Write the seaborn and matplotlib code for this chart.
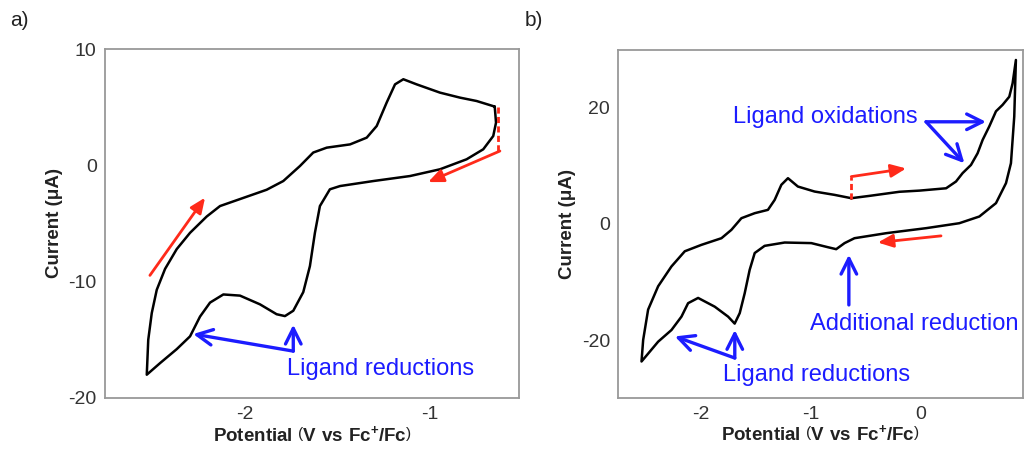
import matplotlib
matplotlib.use("Agg")
import matplotlib.pyplot as plt
import seaborn as sns
import pandas as pd

# ---- Cyclic voltammogram (a): potential in V vs Fc+/Fc, current in uA ----
# cathodic sweep from the switching point, then anodic return
a_potential = [-0.650, -0.643, -0.658, -0.712, -0.802, -0.946, -1.108, -1.306, -1.486, -1.541,
               -1.568, -1.595, -1.622, -1.649, -1.685, -1.739, -1.784, -1.829, -1.919, -2.027,
               -2.117, -2.189, -2.243, -2.297, -2.369, -2.459, -2.531,
               -2.523, -2.504, -2.477, -2.432, -2.369, -2.297, -2.207, -2.135, -2.027, -1.883,
               -1.793, -1.703, -1.631, -1.558, -1.432, -1.342, -1.288, -1.234, -1.189, -1.144,
               -1.072, -0.946, -0.838, -0.748, -0.650]
a_current = [5.05, 3.67, 2.52, 1.38, 0.52, -0.34, -0.92, -1.35, -1.78, -2.06,
             -2.78, -3.5, -5.8, -8.66, -10.9, -12.5, -12.96, -12.8, -11.95, -11.2,
             -11.1, -11.8, -13.0, -14.7, -15.8, -17.0, -18.0,
             -15.0, -12.7, -10.7, -8.9, -7.2, -5.8, -4.4, -3.5, -2.9, -2.1,
             -1.35, -0.06, 1.1, 1.52, 1.8, 2.38, 3.38, 5.4, 6.96, 7.4,
             6.96, 6.25, 5.82, 5.53, 5.05]

# ---- Cyclic voltammogram (b) ----
b_potential = [-0.634, -0.468, -0.197, -0.015, 0.227, 0.317, 0.377, 0.453, 0.513, 0.559,
               0.619, 0.680, 0.740, 0.801, 0.831, 0.861,
               0.846, 0.816, 0.771, 0.680, 0.529, 0.347, 0.045, -0.197, -0.317, -0.605,
               -0.695, -0.771, -0.847, -0.997, -1.239, -1.421, -1.511, -1.557, -1.602, -1.647,
               -1.693, -1.753, -1.874, -2.025, -2.116, -2.176, -2.267, -2.388, -2.539,
               -2.524, -2.479, -2.388, -2.267, -2.146, -1.995, -1.813, -1.723, -1.632, -1.511,
               -1.391, -1.330, -1.269, -1.209, -1.119, -0.967, -0.786, -0.634]
b_current = [4.4, 4.8, 5.5, 5.7, 6.1, 7.26, 8.7, 10.1, 12.1, 14.4,
             16.7, 19.3, 20.4, 21.8, 24.1, 28.1,
             18.4, 10.4, 6.98, 3.55, 1.26, 0.11, -0.74, -1.31, -1.6, -2.46,
             -3.3, -4.34, -4.0, -3.3, -3.2, -3.77, -5.0, -7.9, -11.9, -15.3,
             -17.1, -15.9, -14.2, -12.7, -13.6, -15.9, -18.2, -20.2, -23.6,
             -19.9, -14.7, -10.7, -7.3, -4.7, -3.6, -2.46, -1.03, 0.97, 1.83,
             2.4, 4.1, 6.7, 7.83, 6.4, 5.54, 4.97, 4.4]

a_ticks_x = [-2, -1]
a_ticks_y = [-20, -10, 0, 10]
b_ticks_x = [-2, -1, 0]
b_ticks_y = [-20, 0, 20]

xlabel = "Potential $\\left(\\mathbf{V\\ vs\\ Fc^{+}/Fc}\\right)$"
ylabel = "Current (μA)"

BLUE = "#1c1cff"
RED = "#ff2a1a"

sns.set_style("white")
plt.rcParams["font.family"] = ["Liberation Sans", "DejaVu Sans"]
plt.rcParams["mathtext.fontset"] = "custom"
plt.rcParams["mathtext.bf"] = "Liberation Sans:bold"
plt.rcParams["mathtext.rm"] = "Liberation Sans"

fig = plt.figure(figsize=(10.25, 4.55), dpi=100)
ax_a = fig.add_axes([0.1024, 0.1253, 0.4039, 0.767])
ax_b = fig.add_axes([0.6032, 0.1260, 0.3948, 0.764])

df_a = pd.DataFrame({"E": a_potential, "I": a_current})
df_b = pd.DataFrame({"E": b_potential, "I": b_current})
sns.lineplot(data=df_a, x="E", y="I", sort=False, estimator=None, color="black",
             lw=1.8, ax=ax_a)
sns.lineplot(data=df_b, x="E", y="I", sort=False, estimator=None, color="black",
             lw=1.8, ax=ax_b)
for ax in (ax_a, ax_b):
    for ln in ax.lines:
        ln.set_solid_joinstyle("round")


def style(ax, xlim, ylim, xt, yt):
    ax.set_xlim(*xlim)
    ax.set_ylim(*ylim)
    ax.set_xticks(xt)
    ax.set_yticks(yt)
    ax.set_xticklabels([f"{v:g}" for v in xt])
    ax.set_yticklabels([f"{v:g}" for v in yt])
    ax.tick_params(axis="both", direction="out", length=4, width=1, color="#888888",
                   labelsize=14, labelcolor="#333333", pad=2)
    for s in ax.spines.values():
        s.set_color("#999999")
        s.set_linewidth(1.3)
    ax.set_xlabel(xlabel, fontsize=13.5, fontweight="bold", color="#222222", labelpad=1)
    ax.set_ylabel(ylabel, fontsize=13.5, fontweight="bold", color="#222222", labelpad=4)


style(ax_a, (-2.757, -0.519), (-20, 10), a_ticks_x, a_ticks_y)
style(ax_b, (-2.75, 0.925), (-29.8, 29.8), b_ticks_x, b_ticks_y)


def arrow(ax, start, end, color, lw, style_str, ms):
    ax.annotate("", xy=end, xytext=start,
                arrowprops=dict(arrowstyle=style_str, color=color, lw=lw,
                                mutation_scale=ms, shrinkA=0, shrinkB=0))


RED_HEAD = "-|>,head_width=0.28,head_length=0.65"
BLUE_HEAD = "->,head_width=0.35,head_length=0.7"

# panel a: scan direction (red) and annotations (blue)
ax_a.plot([-0.632, -0.632], [5.0, 1.2], color=RED, lw=2, ls=(0, (2.2, 1.2)))
arrow(ax_a, (-0.622, 1.23), (-1.01, -1.44), RED, 2, RED_HEAD, 14)
arrow(ax_a, (-2.514, -9.46), (-2.216, -2.78), RED, 2, RED_HEAD, 14)
corner_a = (-1.739, -15.97)
arrow(ax_a, corner_a, (-2.28, -14.5), BLUE, 2.4, BLUE_HEAD, 16)
arrow(ax_a, corner_a, (-1.739, -13.7), BLUE, 2.4, BLUE_HEAD, 16)
ax_a.text(-1.773, -17.5, "Ligand reductions", color=BLUE, fontsize=17, va="center", ha="left")

# panel b
ax_b.plot([-0.634, -0.634], [4.2, 8.1], color=RED, lw=2, ls=(0, (2.2, 1.2)))
arrow(ax_b, (-0.634, 8.1), (-0.136, 9.5), RED, 2, RED_HEAD, 14)
arrow(ax_b, (0.181, -2.06), (-0.393, -3.2), RED, 2, RED_HEAD, 14)

corner_ox = (0.045, 17.5)
arrow(ax_b, corner_ox, (0.589, 17.5), BLUE, 2.4, BLUE_HEAD, 16)
arrow(ax_b, corner_ox, (0.393, 10.4), BLUE, 2.4, BLUE_HEAD, 16)
ax_b.text(-1.707, 18.4, "Ligand oxidations", color=BLUE, fontsize=17, va="center", ha="left")

arrow(ax_b, (-0.656, -13.9), (-0.656, -5.3), BLUE, 2.4, BLUE_HEAD, 16)
ax_b.text(-1.012, -17.1, "Additional reduction", color=BLUE, fontsize=17, va="center", ha="left")

corner_red = (-1.692, -23.0)
arrow(ax_b, corner_red, (-2.236, -19.3), BLUE, 2.4, BLUE_HEAD, 16)
arrow(ax_b, corner_red, (-1.692, -18.2), BLUE, 2.4, BLUE_HEAD, 16)
ax_b.text(-1.798, -25.9, "Ligand reductions", color=BLUE, fontsize=17, va="center", ha="left")

fig.text(0.010, 0.955, "a)", fontsize=15, color="#222222", va="center")
fig.text(0.512, 0.955, "b)", fontsize=15, color="#222222", va="center")

fig.savefig("out.png", dpi=100)
